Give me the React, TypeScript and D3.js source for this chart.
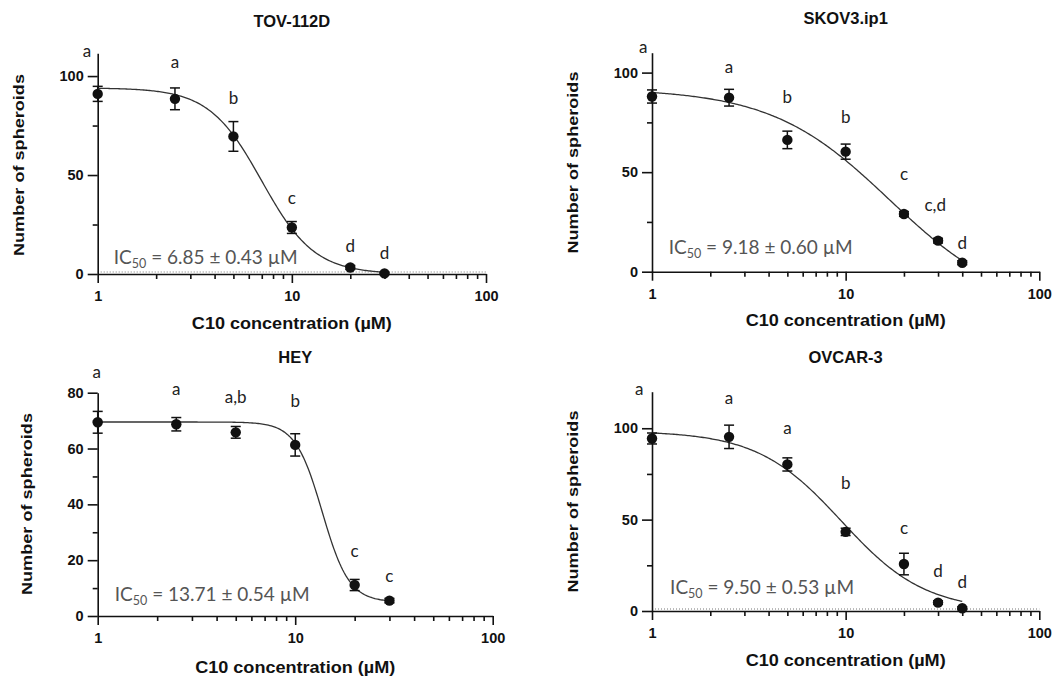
import React, { useEffect, useRef } from 'react';
import * as d3 from 'd3';

// concentrations tested (µM)
const concentrations = [1, 2.5, 5, 10, 20, 30, 40];

const panelTitles = ['TOV-112D', 'SKOV3.ip1', 'HEY', 'OVCAR-3'];
const ic50Texts = ['6.85 ± 0.43 µM', '9.18 ± 0.60 µM', '13.71 ± 0.54 µM', '9.50 ± 0.53 µM'];

// TOV-112D
const tovMeans = [91, 88.5, 69.5, 23.5, 3.3, 0.3];
const tovErrors = [3.8, 5.5, 7.5, 3, 1, 0.5];
const tovLetters = ['a', 'a', 'b', 'c', 'd', 'd'];
const tovLetterX = [0.88, 2.5, 5, 10, 20, 30];
const tovLetterY = [112, 106.6, 88.4, 37.9, 13.6, 10.1];
const tovFit = [94, 0, 7.0, 3.2]; // top, bottom, ic50, hill

// SKOV3.ip1
const skovMeans = [88, 87.4, 66.2, 60.3, 29, 15.6, 4.5];
const skovErrors = [3.3, 4.2, 4.4, 3.8, 1.2, 1.2, 1];
const skovLetters = ['a', 'a', 'b', 'b', 'c', 'c,d', 'd'];
const skovLetterX = [0.9, 2.5, 5, 10, 20, 29, 40];
const skovLetterY = [112.4, 102.4, 87.3, 77.2, 48.6, 33, 13.9];
const skovFit = [92, -20, 16.9, 1.416];

// HEY
const heyMeans = [69.4, 68.7, 65.8, 61.3, 11.1, 5.5];
const heyErrors = [3.9, 2.4, 2.1, 4, 2, 0.8];
const heyLetters = ['a', 'a', 'a,b', 'b', 'c', 'c'];
const heyLetterX = [0.99, 2.5, 5, 10, 20, 30];
const heyLetterY = [87.2, 81, 78.1, 76.8, 23, 14.1];
const heyFit = [69.5, 5, 13.71, 6.4];

// OVCAR-3
const ovcarMeans = [94.4, 95.3, 80.2, 43.3, 25.7, 4.6, 1.5];
const ovcarErrors = [3, 6.4, 3.6, 2, 5.9, 1, 0.8];
const ovcarLetters = ['a', 'a', 'a', 'b', 'c', 'd', 'd'];
const ovcarLetterX = [0.86, 2.5, 5, 10, 20, 30, 40];
const ovcarLetterY = [121.1, 115.8, 99.8, 69.4, 44.6, 21.5, 15.5];
const ovcarFit = [98.5, 0, 9.5, 2];

// y axis ticks
const yTicks100 = [0, 50, 100];
const yMinor100 = [25, 75];
const yTicks80 = [0, 20, 40, 60, 80];
const yMinor80 = [10, 30, 50, 70];

const boldFont = '"Liberation Sans", Arial, sans-serif';
const labelFont = 'Lato, "Open Sans", sans-serif';

const panels = [
  {
    title: panelTitles[0], means: tovMeans, errors: tovErrors, letters: tovLetters,
    letterX: tovLetterX, letterY: tovLetterY, fit: tovFit, ic50: ic50Texts[0], icPos: [1.21, 7.9],
    box: { x0: 97.7, x100: 486, y0: 274, yTop: 53.3, yMax: 111.5, titleY: 26.5, xLabelY: 328.5, yLabelDx: -79, yLabelY: 165 },
    ticks: yTicks100, minor: yMinor100, dotted: true,
  },
  {
    title: panelTitles[1], means: skovMeans, errors: skovErrors, letters: skovLetters,
    letterX: skovLetterX, letterY: skovLetterY, fit: skovFit, ic50: ic50Texts[1], icPos: [1.22, 11.9],
    box: { x0: 652, x100: 1039.3, y0: 271.7, yTop: 52.7, yMax: 110, titleY: 24, xLabelY: 326, yLabelDx: -79, yLabelY: 162.5 },
    ticks: yTicks100, minor: yMinor100, dotted: false,
  },
  {
    title: panelTitles[2], means: heyMeans, errors: heyErrors, letters: heyLetters,
    letterX: heyLetterX, letterY: heyLetterY, fit: heyFit, ic50: ic50Texts[2], icPos: [1.22, 7.5],
    box: { x0: 97.7, x100: 492.7, y0: 616, yTop: 392.7, yMax: 80, titleY: 362.5, xLabelY: 672.5, yLabelDx: -71, yLabelY: 504 },
    ticks: yTicks80, minor: yMinor80, dotted: false,
  },
  {
    title: panelTitles[3], means: ovcarMeans, errors: ovcarErrors, letters: ovcarLetters,
    letterX: ovcarLetterX, letterY: ovcarLetterY, fit: ovcarFit, ic50: ic50Texts[3], icPos: [1.24, 12.4],
    box: { x0: 652, x100: 1039.3, y0: 611, yTop: 391.7, yMax: 120, titleY: 362.5, xLabelY: 666, yLabelDx: -79, yLabelY: 501.5 },
    ticks: yTicks100, minor: yMinor100, dotted: true,
  },
];

const xMinor = [2, 3, 4, 5, 6, 7, 8, 9, 20, 30, 40, 50, 60, 70, 80, 90];

const Panel = ({ p }: { p: any }) => {
  const gRef = useRef<SVGGElement>(null);

  useEffect(() => {
    const g = d3.select(gRef.current);
    g.selectAll('*').remove();
    const b = p.box;

    const x = d3.scaleLog().domain([1, 100]).range([b.x0, b.x100]);
    const y = d3.scaleLinear().domain([0, b.yMax]).range([b.y0, b.yTop]);
    const xs = concentrations.slice(0, p.means.length);

    const styleAxis = (sel: any) => {
      sel.selectAll('path, line').attr('stroke', '#111').attr('stroke-width', 1.6);
      sel.selectAll('text')
        .attr('font-family', boldFont)
        .attr('font-weight', 'bold')
        .attr('font-size', 14.5)
        .attr('fill', '#111');
    };

    // dotted line at bottom
    if (p.dotted) {
      g.append('line')
        .attr('x1', x(1)).attr('x2', x(100))
        .attr('y1', y(0) - 2).attr('y2', y(0) - 2)
        .attr('stroke', '#777')
        .attr('stroke-width', 1)
        .attr('stroke-dasharray', '1,2');
    }

    // x axis: minor then major
    g.append('g')
      .attr('transform', `translate(0,${b.y0})`)
      .call(d3.axisBottom(x).tickValues(xMinor).tickSize(5).tickSizeOuter(0).tickFormat(() => ''))
      .call((s: any) => s.select('.domain').remove())
      .call(styleAxis);
    g.append('g')
      .attr('transform', `translate(0,${b.y0})`)
      .call(d3.axisBottom(x).tickValues([1, 10, 100]).tickSize(9).tickSizeOuter(0).tickPadding(8).tickFormat(d3.format('d')))
      .call(styleAxis);

    // y axis
    g.append('g')
      .attr('transform', `translate(${b.x0},0)`)
      .call(d3.axisLeft(y).tickValues(p.minor).tickSize(5).tickSizeOuter(0).tickFormat(() => ''))
      .call((s: any) => s.select('.domain').remove())
      .call(styleAxis);
    g.append('g')
      .attr('transform', `translate(${b.x0},0)`)
      .call(d3.axisLeft(y).tickValues(p.ticks).tickSize(10).tickSizeOuter(0).tickPadding(4).tickFormat(d3.format('d')))
      .call(styleAxis);

    // fitted curve (4-parameter logistic)
    const [top, bottom, ic50, hill] = p.fit;
    const lastX = xs[xs.length - 1];
    const curveX = d3.range(0, 201).map((i) => Math.pow(10, (Math.log10(lastX) * i) / 200));
    const line = d3.line<number>()
      .x((c) => x(c))
      .y((c) => y(bottom + (top - bottom) / (1 + Math.pow(c / ic50, hill))));
    g.append('path')
      .datum(curveX)
      .attr('d', line)
      .attr('fill', 'none')
      .attr('stroke', '#333')
      .attr('stroke-width', 1.3);

    // error bars
    const bars = g.append('g').attr('stroke', '#111').attr('stroke-width', 1.5);
    xs.forEach((c, i) => {
      const m = p.means[i];
      const e = p.errors[i];
      bars.append('line').attr('x1', x(c)).attr('x2', x(c)).attr('y1', y(m - e)).attr('y2', y(m + e));
      bars.append('line').attr('x1', x(c) - 5).attr('x2', x(c) + 5).attr('y1', y(m - e)).attr('y2', y(m - e));
      bars.append('line').attr('x1', x(c) - 5).attr('x2', x(c) + 5).attr('y1', y(m + e)).attr('y2', y(m + e));
    });

    // points
    g.append('g')
      .selectAll('circle')
      .data(xs)
      .enter()
      .append('circle')
      .attr('cx', (c) => x(c))
      .attr('cy', (c, i) => y(p.means[i]))
      .attr('r', 5.2)
      .attr('fill', '#111');

    // significance letters
    g.append('g')
      .selectAll('text')
      .data(p.letters)
      .enter()
      .append('text')
      .attr('x', (d, i) => x(p.letterX[i]))
      .attr('y', (d, i) => y(p.letterY[i]) + 5)
      .attr('text-anchor', 'middle')
      .attr('font-family', labelFont)
      .attr('font-size', 17)
      .attr('fill', '#222')
      .text((d) => d);

    // IC50 label
    const ic = g.append('text')
      .attr('x', x(p.icPos[0]))
      .attr('y', y(p.icPos[1]) + 6)
      .attr('font-family', labelFont)
      .attr('font-size', 19)
      .attr('fill', '#555');
    ic.append('tspan').text('IC');
    ic.append('tspan').attr('font-size', 12.5).attr('dy', 4).text('50');
    ic.append('tspan').attr('dy', -4).text(` = ${p.ic50}`);

    // title
    g.append('text')
      .attr('x', x(10))
      .attr('y', b.titleY)
      .attr('text-anchor', 'middle')
      .attr('font-family', boldFont)
      .attr('font-weight', 'bold')
      .attr('font-size', 16.5)
      .attr('fill', '#111')
      .text(p.title);

    // axis labels
    g.append('text')
      .attr('x', x(10))
      .attr('y', b.xLabelY)
      .attr('text-anchor', 'middle')
      .attr('font-family', boldFont)
      .attr('font-weight', 'bold')
      .attr('font-size', 16)
      .attr('fill', '#111')
      .attr('textLength', 200)
      .attr('lengthAdjust', 'spacingAndGlyphs')
      .text('C10 concentration (µM)');

    g.append('text')
      .attr('transform', `translate(${b.x0 + b.yLabelDx + 5},${b.yLabelY}) rotate(-90)`)
      .attr('text-anchor', 'middle')
      .attr('font-family', boldFont)
      .attr('font-weight', 'bold')
      .attr('font-size', 15)
      .attr('fill', '#111')
      .attr('textLength', 182)
      .attr('lengthAdjust', 'spacingAndGlyphs')
      .text('Number of spheroids');
  }, [p]);

  return <g ref={gRef} />;
};

export default function App() {
  return (
    <svg
      width={1063}
      height={677}
      style={{ position: 'absolute', left: 0, top: 0, background: '#fff' }}
    >
      <rect width={1063} height={677} fill="#fff" />
      {panels.map((p) => (
        <Panel key={p.title} p={p} />
      ))}
    </svg>
  );
}
